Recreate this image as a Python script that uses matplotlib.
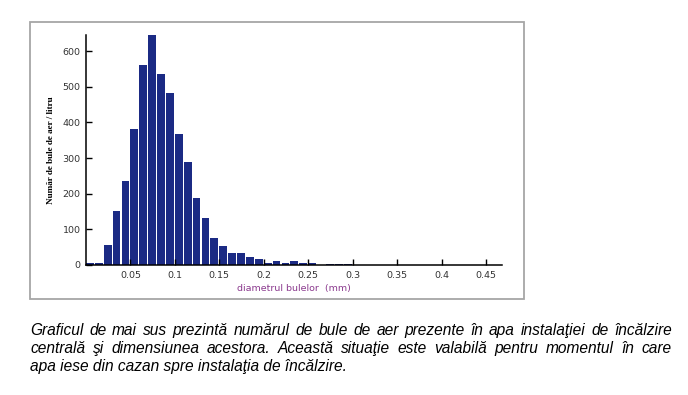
import numpy as np
import matplotlib
matplotlib.use("Agg")
import matplotlib.pyplot as plt
from matplotlib.patches import Rectangle

# bin edges (mm) and bubble counts per litre
bin_left = [0.00, 0.01, 0.02, 0.03, 0.04, 0.05, 0.06, 0.07, 0.08, 0.09,
            0.10, 0.11, 0.12, 0.13, 0.14, 0.15, 0.16, 0.17, 0.18, 0.19,
            0.20, 0.21, 0.22, 0.23, 0.24, 0.25, 0.26, 0.27, 0.28, 0.29]
counts = [7, 7, 56, 152, 236, 380, 562, 645, 536, 481,
          367, 289, 189, 132, 76, 52, 35, 35, 22, 17,
          6, 10, 5, 10, 5, 5, 0, 3, 4, 4]

xticks = [0.05, 0.1, 0.15, 0.2, 0.25, 0.3, 0.35, 0.4, 0.45]
xtick_labels = ["0.05", "0.1", "0.15", "0.2", "0.25", "0.3", "0.35", "0.4", "0.45"]
yticks = [0, 100, 200, 300, 400, 500, 600]

caption_lines = [
    "Graficul de mai sus prezintă numărul de bule de aer prezente în apa instalaţiei de încălzire",
    "centrală şi dimensiunea acestora. Această situaţie este valabilă pentru momentul în care",
    "apa iese din cazan spre instalaţia de încălzire.",
]

W, H = 688, 395
fig = plt.figure(figsize=(W / 100, H / 100), dpi=100)

# grey frame around the chart
fig.patches.append(Rectangle((30 / W, 1 - 299 / H), 494 / W, 277 / H,
                             transform=fig.transFigure, fill=False,
                             edgecolor="#a6a6a6", linewidth=1.3))

ax = fig.add_axes([86 / W, 1 - 265 / H, 416 / W, 230 / H])
ax.bar(bin_left, counts, width=0.0088, align="edge", color="#1b2a84",
       linewidth=0)

ax.set_xlim(0, 0.468)
ax.set_ylim(0, 645)
ax.set_xticks(xticks)
ax.set_xticklabels(xtick_labels)
ax.set_yticks(yticks)
ax.tick_params(direction="in", length=4, width=1, labelsize=6.8,
               labelcolor="#333333", pad=4)
for s in ["top", "right"]:
    ax.spines[s].set_visible(False)
for s in ["left", "bottom"]:
    ax.spines[s].set_linewidth(1.1)

ax.set_xlabel("diametrul bulelor  (mm)", fontsize=6.8, color="#8b3a8e", labelpad=3)
ax.set_ylabel("Număr de bule de aer / litru", fontsize=6.6, fontweight="bold",
              family="Liberation Serif", labelpad=5)

# justified caption (words placed on a common baseline)
renderer = fig.canvas.get_renderer()
x_left, x_right = 30, 672
baselines = [335, 353, 371]
font = dict(fontsize=11.2, style="italic", family="Liberation Sans", color="black")
for i, line in enumerate(caption_lines):
    words = line.split(" ")
    y = 1 - baselines[i] / H
    if i == len(caption_lines) - 1:
        fig.text(x_left / W, y, line, va="baseline", ha="left", **font)
        continue
    texts = [fig.text(0, y, w, va="baseline", ha="left", **font) for w in words]
    widths = [t.get_window_extent(renderer).width for t in texts]
    gap = (x_right - x_left - sum(widths)) / (len(words) - 1)
    x = x_left
    for t, w in zip(texts, widths):
        t.set_x(x / W)
        x += w + gap

fig.savefig("out.png", dpi=100)
